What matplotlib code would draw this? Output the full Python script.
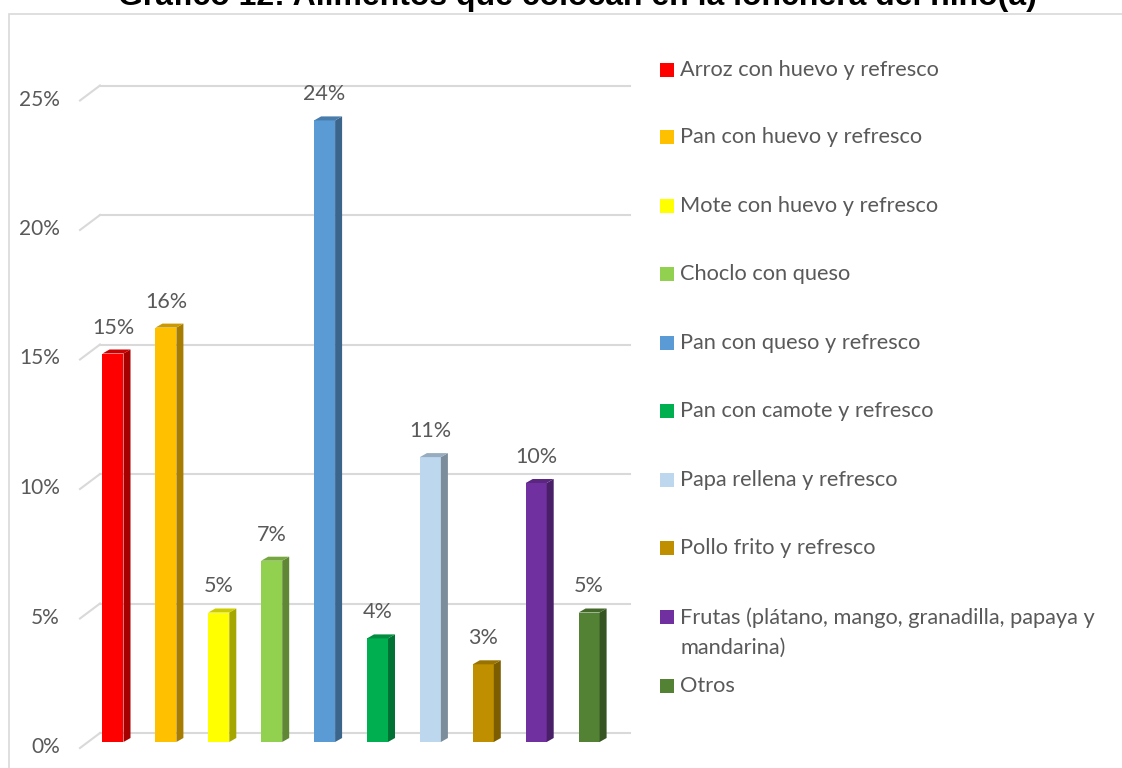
import numpy as np
import matplotlib.pyplot as plt
from matplotlib.patches import Polygon, Rectangle
from matplotlib.colors import to_rgb

# ____________________________________________________________
# data

categorias = ['Arroz con huevo y refresco', 'Pan con huevo y refresco',
              'Mote con huevo y refresco', 'Choclo con queso',
              'Pan con queso y refresco', 'Pan con camote y refresco',
              'Papa rellena y refresco', 'Pollo frito y refresco',
              'Frutas (plátano, mango, granadilla, papaya y\nmandarina)', 'Otros']
porcentajes = [15, 16, 5, 7, 24, 4, 11, 3, 10, 5]
colores = ['#FF0000', '#FFC000', '#FFFF00', '#92D050', '#5B9BD5',
           '#00B050', '#BDD7EE', '#BF8F00', '#7030A0', '#548235']
ticks = [0, 5, 10, 15, 20, 25]
titulo = 'Gráfico 12: Alimentos que colocan en la lonchera del niño(a)'

# ____________________________________________________________
# figure geometry (pixels)

W, H = 1122, 768
px_x = 52.9    # pixels per category
px_y = 25.9    # pixels per percent
x0_px, y0_px = 113, 742   # first bar centre / front floor (from top)

fig = plt.figure(figsize=(W / 100, H / 100), dpi=100)
ax = fig.add_axes([0, 0, 1, 1])
ax.set_xlim(-x0_px / px_x, (W - x0_px) / px_x)
ax.set_ylim(-(H - y0_px) / px_y, y0_px / px_y)
ax.axis('off')

fnt = 'Lato'
gris = '#595959'

# chart frame
fig.add_artist(Rectangle((9 / W, -0.1), 1.2, 1.1 - 14 / H, transform=fig.transFigure,
                         fill=False, edgecolor='#D9D9D9', linewidth=1.2))

# ____________________________________________________________
# back wall gridlines and side wall slants

back_dy = 9 / px_y
side_dx, side_dy = 20 / px_x, 15 / px_y
x_left = (100 - x0_px) / px_x
x_right = (630 - x0_px) / px_x
for t in ticks:
    yb = t + back_dy
    ax.plot([x_left, x_right], [yb, yb], color='#D9D9D9', lw=1.5, zorder=1)
    ax.plot([x_left - side_dx, x_left], [yb - side_dy, yb], color='#D9D9D9', lw=1.5, zorder=1)
    ax.text((60 - x0_px) / px_x, yb - side_dy + 1 / px_y, f'{t}%',
            ha='right', va='center', fontsize=15, color=gris, family=fnt)

# ____________________________________________________________
# 3d-looking bars

w = 21 / px_x
dx, dy = 7 / px_x, 4 / px_y
x = np.arange(len(porcentajes))


def shade(c, f):
    r, g, b = to_rgb(c)
    return (r * f, g * f, b * f)


ax.bar(x, porcentajes, width=w, color=colores, zorder=3)
for xi, v, c in zip(x, porcentajes, colores):
    side = [(xi + w / 2, 0), (xi + w / 2 + dx, dy), (xi + w / 2 + dx, v + dy), (xi + w / 2, v)]
    top = [(xi - w / 2, v), (xi + w / 2, v), (xi + w / 2 + dx, v + dy), (xi - w / 2 + dx, v + dy)]
    ax.add_patch(Polygon(side, closed=True, facecolor=shade(c, 0.65), edgecolor='none', zorder=3))
    ax.add_patch(Polygon(top, closed=True, facecolor=shade(c, 0.8), edgecolor='none', zorder=3))
    ax.text(xi, v + 26 / px_y, f'{v}%', ha='center', va='center',
            fontsize=15.5, color=gris, family=fnt, zorder=4)

# ____________________________________________________________
# legend

row_y = [70, 137, 206, 274, 343, 411, 480, 548, 617, 686]
for lab, c, yy in zip(categorias, colores, row_y):
    fig.add_artist(Rectangle((660 / W, 1 - (yy + 7) / H), 14 / W, 14 / H,
                             transform=fig.transFigure, facecolor=c, edgecolor='none'))
    ty = yy if '\n' not in lab else yy + 15.5
    fig.text(680 / W, 1 - ty / H, lab, ha='left', va='center',
             fontsize=15.7, color=gris, family=fnt, linespacing=1.6)

# title, partly above the top edge
fig.text(577 / W, 1 - 5 / H, titulo, ha='center', va='baseline',
         fontsize=23, fontweight='bold', color='#000000', family='Liberation Sans')

fig.savefig('out.png', dpi=100)
